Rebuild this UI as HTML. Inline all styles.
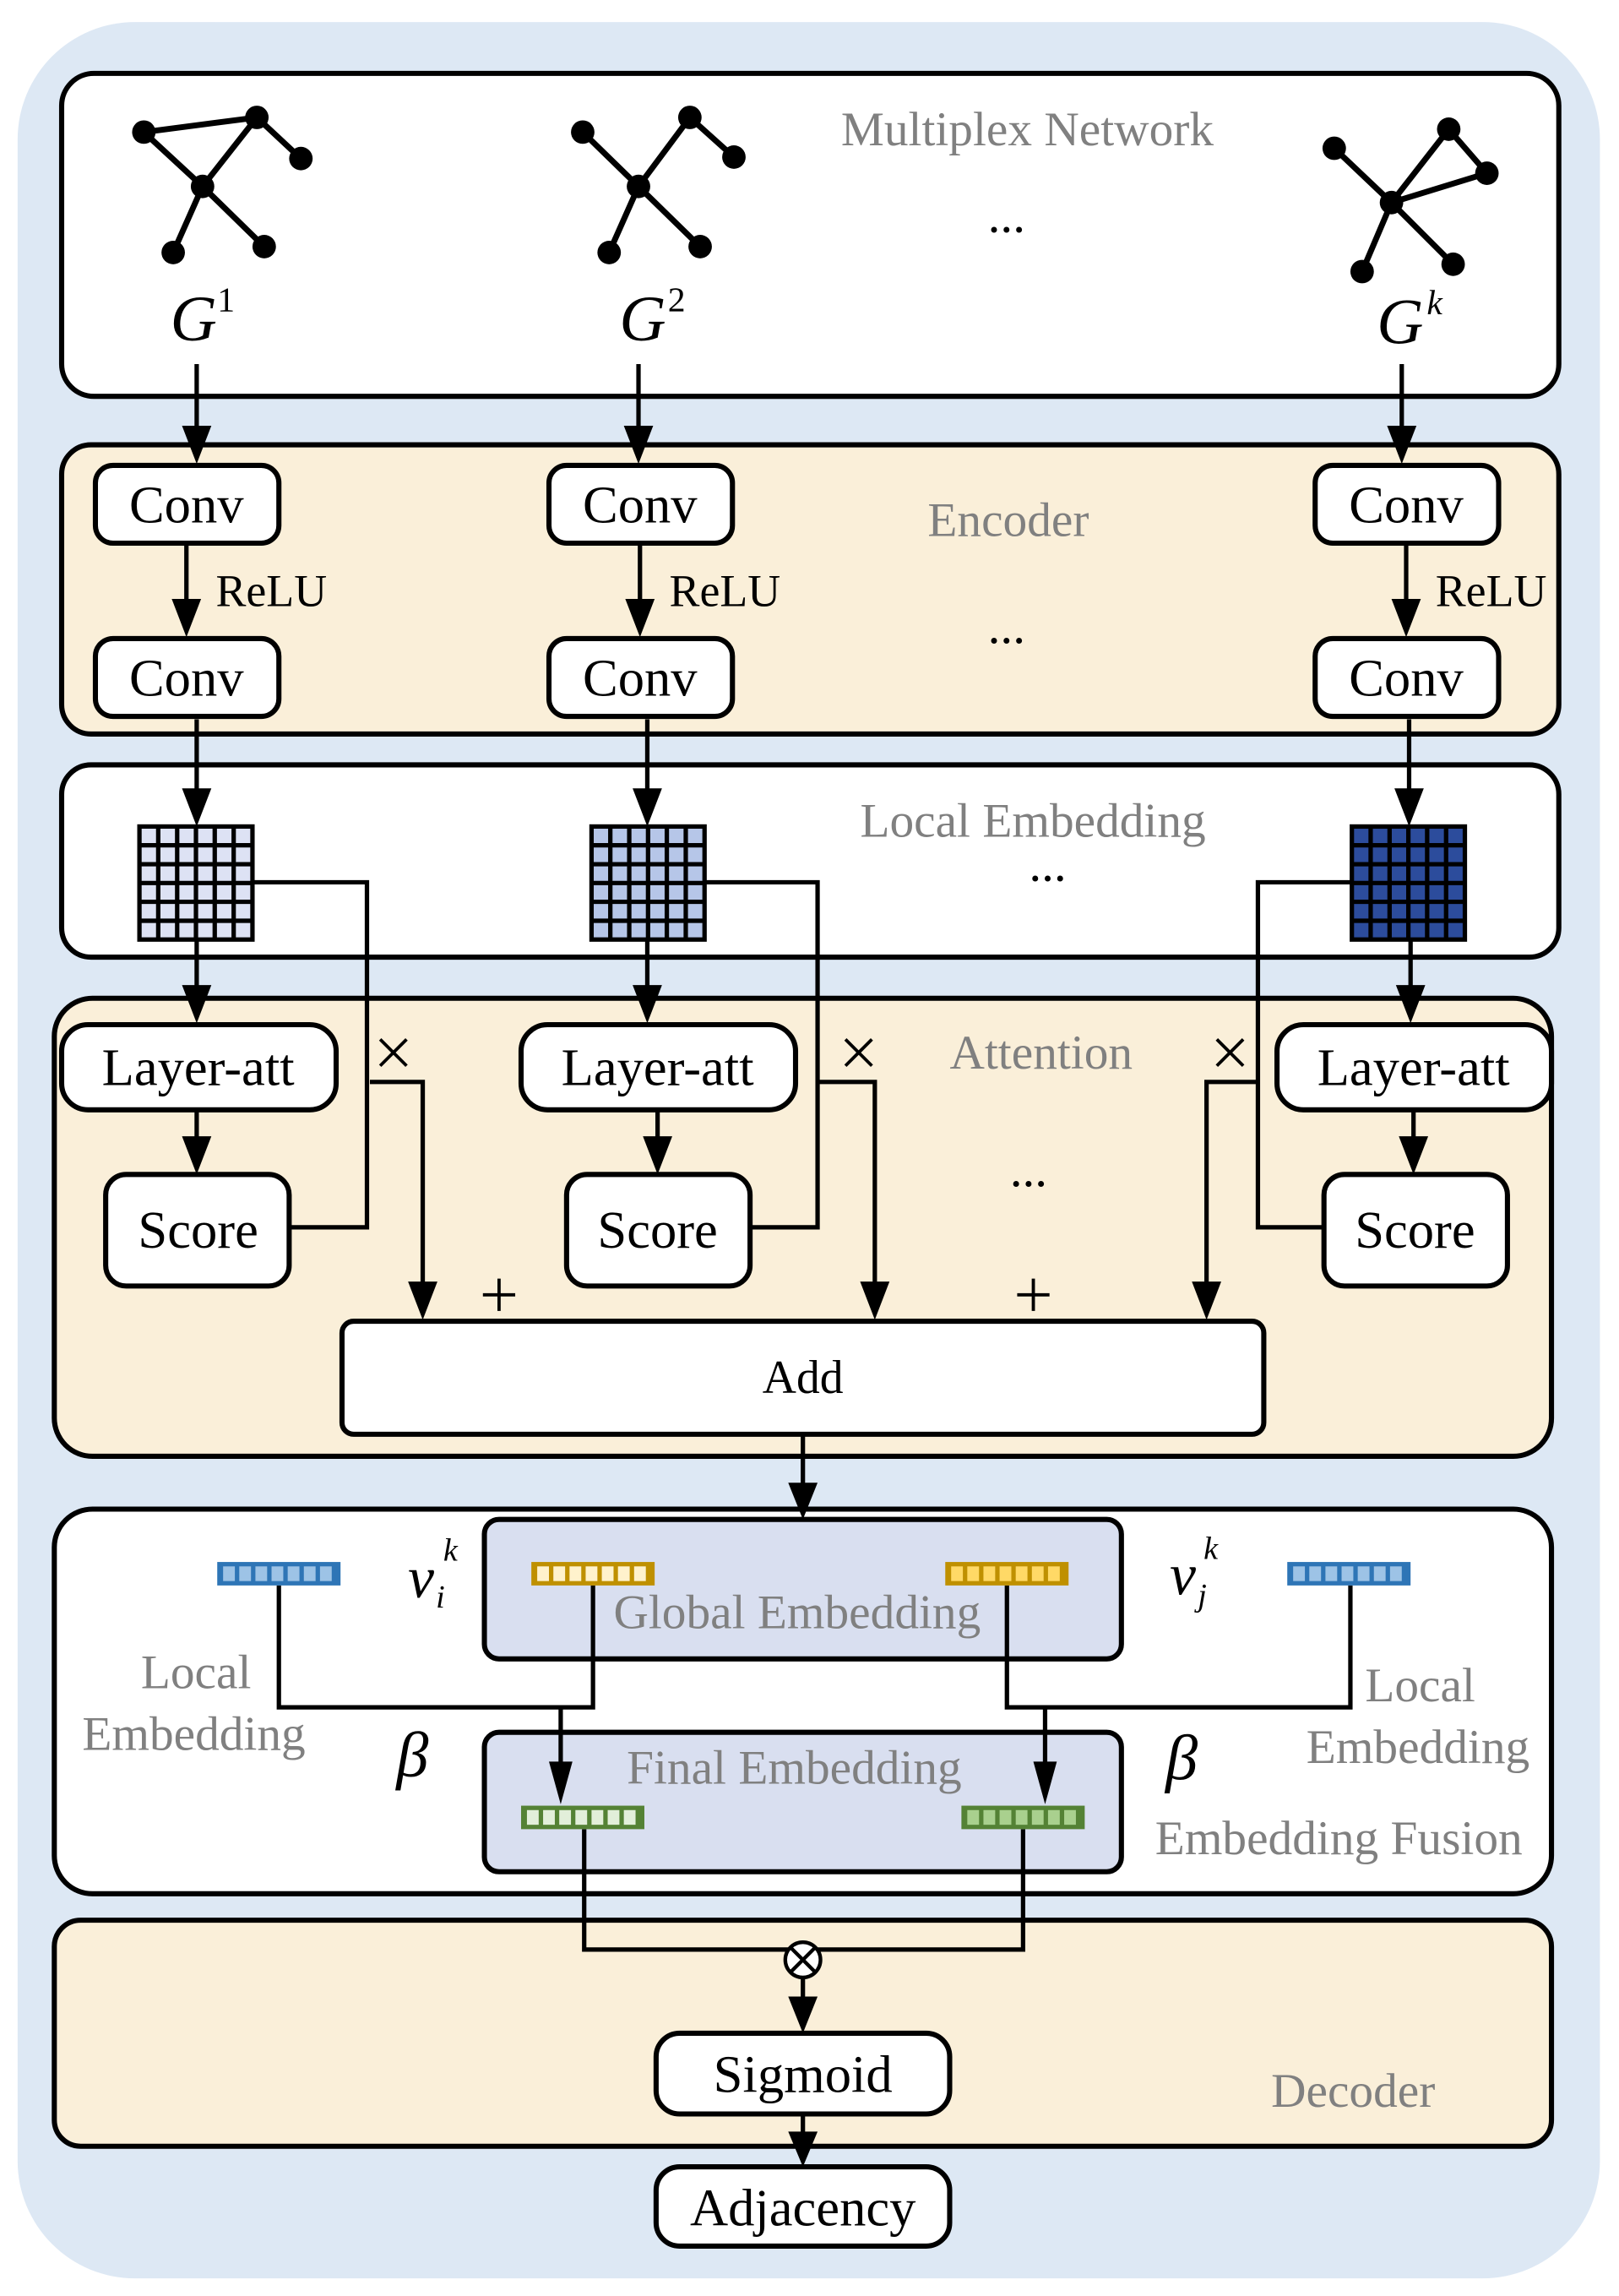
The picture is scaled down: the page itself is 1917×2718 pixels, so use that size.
<!DOCTYPE html>
<html><head><meta charset="utf-8"><style>
html,body{margin:0;padding:0;background:#fff;}
svg{display:block;}
svg text{font-family:"Liberation Serif","Times New Roman",serif !important;}
</style></head><body>
<svg width="1917" height="2718" viewBox="0 0 1103 1564" preserveAspectRatio="none" xmlns="http://www.w3.org/2000/svg" font-family="Liberation Serif, serif">
<rect x="12" y="15" width="1078" height="1537" rx="80" fill="#dde8f4"/>
<g stroke="#000" stroke-width="3.5">
<rect x="42" y="50" width="1020" height="220" rx="22" fill="#fff"/>
<rect x="42" y="303" width="1020" height="197" rx="20" fill="#faefd9"/>
<rect x="42" y="521" width="1020" height="131" rx="20" fill="#fff"/>
<rect x="37" y="680" width="1020" height="312" rx="26" fill="#faefd9"/>
<rect x="37" y="1028" width="1020" height="262" rx="26" fill="#fff"/>
<rect x="37" y="1308" width="1020" height="154" rx="18" fill="#faefd9"/>
<rect x="330" y="1035" width="434" height="95" rx="10" fill="#d9dff0"/>
<rect x="330" y="1180" width="434" height="95" rx="10" fill="#d9dff0"/>
</g>
<g stroke="#000" stroke-width="4" fill="none">
<path d="M98 90L175 80M98 90L138 127M175 80L138 127M175 80L205 108M138 127L118 172M138 127L180 168"/>
<path d="M397 90L435 127M470 80L435 127M470 80L500 107M435 127L415 172M435 127L477 168"/>
<path d="M909 101L948 138M987 88L948 138M987 88L1013 118M1013 118L948 138M948 138L928 185M948 138L990 180"/>
</g>
<g fill="#000">
<circle cx="98" cy="90" r="8"/><circle cx="175" cy="80" r="8"/><circle cx="205" cy="108" r="8"/><circle cx="138" cy="127" r="8"/><circle cx="118" cy="172" r="8"/><circle cx="180" cy="168" r="8"/>
<circle cx="397" cy="90" r="8"/><circle cx="470" cy="80" r="8"/><circle cx="500" cy="107" r="8"/><circle cx="435" cy="127" r="8"/><circle cx="415" cy="172" r="8"/><circle cx="477" cy="168" r="8"/>
<circle cx="909" cy="101" r="8"/><circle cx="987" cy="88" r="8"/><circle cx="1013" cy="118" r="8"/><circle cx="948" cy="138" r="8"/><circle cx="928" cy="185" r="8"/><circle cx="990" cy="180" r="8"/>
</g>
<g font-style="italic" font-size="44" fill="#000">
<text x="116" y="232">G</text><text x="148" y="212" font-size="24" font-style="normal">1</text>
<text x="422" y="232">G</text><text x="455" y="212" font-size="24" font-style="normal">2</text>
<text x="938" y="234">G</text><text x="972" y="214" font-size="24">k</text>
</g>
<g fill="#808080" font-size="33">
<text x="573" y="99">Multiplex Network</text>
<text x="632" y="365">Encoder</text>
<text x="586" y="570">Local Embedding</text>
<text x="647" y="728">Attention</text>
<text x="418" y="1109">Global Embedding</text>
<text x="427" y="1215">Final Embedding</text>
<text x="96" y="1150">Local</text>
<text x="56" y="1192">Embedding</text>
<text x="930" y="1159">Local</text>
<text x="890" y="1201">Embedding</text>
<text x="787" y="1263">Embedding Fusion</text>
<text x="866" y="1435">Decoder</text>
</g>
<g fill="#000" font-size="34">
<text x="673" y="158">...</text>
<text x="673" y="438">...</text>
<text x="701" y="600">...</text>
<text x="688" y="808">...</text>
</g>
<g stroke="#000" stroke-width="3.5" fill="#fff">
<rect x="65" y="317" width="125" height="53" rx="12"/><rect x="65" y="435" width="125" height="53" rx="12"/>
<rect x="374" y="317" width="125" height="53" rx="12"/><rect x="374" y="435" width="125" height="53" rx="12"/>
<rect x="896" y="317" width="125" height="53" rx="12"/><rect x="896" y="435" width="125" height="53" rx="12"/>
<rect x="42" y="698" width="187" height="58" rx="18"/>
<rect x="355" y="698" width="187" height="58" rx="18"/>
<rect x="870" y="698" width="187" height="58" rx="18"/>
<rect x="72" y="800" width="125" height="76" rx="14"/>
<rect x="386" y="800" width="125" height="76" rx="14"/>
<rect x="902" y="800" width="125" height="76" rx="14"/>
<rect x="233" y="900" width="628" height="77" rx="8"/>
<rect x="447" y="1385" width="200" height="55" rx="16"/>
<rect x="447" y="1476" width="200" height="54" rx="16"/>
</g>
<g fill="#000" font-size="36" text-anchor="middle">
<text x="127" y="356">Conv</text><text x="127" y="474">Conv</text>
<text x="436" y="356">Conv</text><text x="436" y="474">Conv</text>
<text x="958" y="356">Conv</text><text x="958" y="474">Conv</text>
<text x="135" y="739">Layer-att</text><text x="448" y="739">Layer-att</text><text x="963" y="739">Layer-att</text>
<text x="135" y="850">Score</text><text x="448" y="850">Score</text><text x="964" y="850">Score</text>
<text x="547" y="949" font-size="32">Add</text>
<text x="547" y="1425">Sigmoid</text>
<text x="547" y="1516">Adjacency</text>
</g>
<g fill="#000" font-size="31">
<text x="147" y="413">ReLU</text><text x="456" y="413">ReLU</text><text x="978" y="413">ReLU</text>
</g>
<g stroke="#000" stroke-width="2.2">
<path d="M259 708L277 726M277 708L259 726"/>
<path d="M576 708L594 726M594 708L576 726"/>
<path d="M829 708L847 726M847 708L829 726"/>
<path d="M340 871V893M329 882H351"/>
<path d="M704 871V893M693 882H715"/>
</g>
<g stroke="#000" stroke-width="3">
<rect x="95" y="563" width="77" height="77" fill="#dde2f4"/>
<rect x="403" y="563" width="77" height="77" fill="#b6c6e8"/>
<rect x="921" y="563" width="77" height="77" fill="#2c4c9c"/>
<path d="M107.8 563V640M120.7 563V640M133.5 563V640M146.3 563V640M159.2 563V640M95 575.8H172M95 588.7H172M95 601.5H172M95 614.3H172M95 627.2H172"/>
<path d="M415.8 563V640M428.7 563V640M441.5 563V640M454.3 563V640M467.2 563V640M403 575.8H480M403 588.7H480M403 601.5H480M403 614.3H480M403 627.2H480"/>
<path d="M933.8 563V640M946.7 563V640M959.5 563V640M972.3 563V640M985.2 563V640M921 575.8H998M921 588.7H998M921 601.5H998M921 614.3H998M921 627.2H998"/>
</g>
<g stroke="#000" stroke-width="3" fill="none">
<path d="M134 248V300M435 248V300M955 248V300"/>
<path d="M127 370V418M436 370V418M958 370V418"/>
<path d="M134 490V545M441 490V545M960 490V545"/>
<path d="M134 640V680M441 640V680M961 640V680"/>
<path d="M134 756V784M448 756V784M963 756V784"/>
<path d="M172 601H250V836H197M252 737H288V882"/>
<path d="M480 601H557V836H511M557 737H596V882"/>
<path d="M921 601H857V836H902M857 737H822V882"/>
<path d="M547 977V1018"/>
<path d="M190 1080V1163H404V1080M382 1163V1212"/>
<path d="M686 1080V1163H920V1080M712 1163V1212"/>
<path d="M398 1246V1328H697V1246"/>
<path d="M547 1347V1368M547 1440V1460"/>
</g>
<g fill="#000">
<path d="M124 290L144 290L134 316Z M425 290L445 290L435 316Z M945 290L965 290L955 316Z"/>
<path d="M117 408L137 408L127 434Z M426 408L446 408L436 434Z M948 408L968 408L958 434Z"/>
<path d="M124 537L144 537L134 563Z M431 537L451 537L441 563Z M950 537L970 537L960 563Z"/>
<path d="M124 671L144 671L134 697Z M431 671L451 671L441 697Z M951 671L971 671L961 697Z"/>
<path d="M124 774L144 774L134 800Z M438 774L458 774L448 800Z M953 774L973 774L963 800Z"/>
<path d="M278 873L298 873L288 899Z M586 873L606 873L596 899Z M812 873L832 873L822 899Z"/>
<path d="M537 1010L557 1010L547 1035Z"/>
<path d="M374 1200L390 1200L382 1229Z M704 1200L720 1200L712 1229Z"/>
<path d="M537 1360L557 1360L547 1385Z M537 1452L557 1452L547 1476Z"/>
</g>
<circle cx="547" cy="1335" r="12" fill="#fff" stroke="#000" stroke-width="2.5"/>
<path d="M539 1327L555 1343M555 1327L539 1343" stroke="#000" stroke-width="2.5"/>
<rect x="148" y="1064" width="84" height="16" fill="#2e75b6"/>
<rect x="877" y="1064" width="84" height="16" fill="#2e75b6"/>
<rect x="362" y="1064" width="84" height="16" fill="#bf9000"/>
<rect x="644" y="1064" width="84" height="16" fill="#bf9000"/>
<rect x="355" y="1230" width="84" height="16" fill="#548235"/>
<rect x="655" y="1230" width="84" height="16" fill="#548235"/>
<g fill="#9dc3e6"><rect x="152" y="1067" width="8" height="10"/><rect x="163" y="1067" width="8" height="10"/><rect x="174" y="1067" width="8" height="10"/><rect x="185" y="1067" width="8" height="10"/><rect x="196" y="1067" width="8" height="10"/><rect x="207" y="1067" width="8" height="10"/><rect x="218" y="1067" width="8" height="10"/></g>
<g fill="#9dc3e6"><rect x="881" y="1067" width="8" height="10"/><rect x="892" y="1067" width="8" height="10"/><rect x="903" y="1067" width="8" height="10"/><rect x="914" y="1067" width="8" height="10"/><rect x="925" y="1067" width="8" height="10"/><rect x="936" y="1067" width="8" height="10"/><rect x="947" y="1067" width="8" height="10"/></g>
<g fill="#fff2cc"><rect x="366" y="1067" width="8" height="10"/><rect x="377" y="1067" width="8" height="10"/><rect x="388" y="1067" width="8" height="10"/><rect x="399" y="1067" width="8" height="10"/><rect x="410" y="1067" width="8" height="10"/><rect x="421" y="1067" width="8" height="10"/><rect x="432" y="1067" width="8" height="10"/></g>
<g fill="#ffd966"><rect x="648" y="1067" width="8" height="10"/><rect x="659" y="1067" width="8" height="10"/><rect x="670" y="1067" width="8" height="10"/><rect x="681" y="1067" width="8" height="10"/><rect x="692" y="1067" width="8" height="10"/><rect x="703" y="1067" width="8" height="10"/><rect x="714" y="1067" width="8" height="10"/></g>
<g fill="#e2efda"><rect x="359" y="1233" width="8" height="10"/><rect x="370" y="1233" width="8" height="10"/><rect x="381" y="1233" width="8" height="10"/><rect x="392" y="1233" width="8" height="10"/><rect x="403" y="1233" width="8" height="10"/><rect x="414" y="1233" width="8" height="10"/><rect x="425" y="1233" width="8" height="10"/></g>
<g fill="#a9d08e"><rect x="659" y="1233" width="8" height="10"/><rect x="670" y="1233" width="8" height="10"/><rect x="681" y="1233" width="8" height="10"/><rect x="692" y="1233" width="8" height="10"/><rect x="703" y="1233" width="8" height="10"/><rect x="714" y="1233" width="8" height="10"/><rect x="725" y="1233" width="8" height="10"/></g>
<g font-style="italic" fill="#000">
<text x="278" y="1088" font-size="40">v</text><text x="302" y="1063" font-size="22">k</text><text x="297" y="1095" font-size="22">i</text>
<text x="797" y="1086" font-size="40">v</text><text x="820" y="1062" font-size="22">k</text><text x="816" y="1094" font-size="22">j</text>
<text x="270" y="1210" font-size="44">β</text>
<text x="794" y="1212" font-size="44">β</text>
</g>
</svg>
</body></html>
